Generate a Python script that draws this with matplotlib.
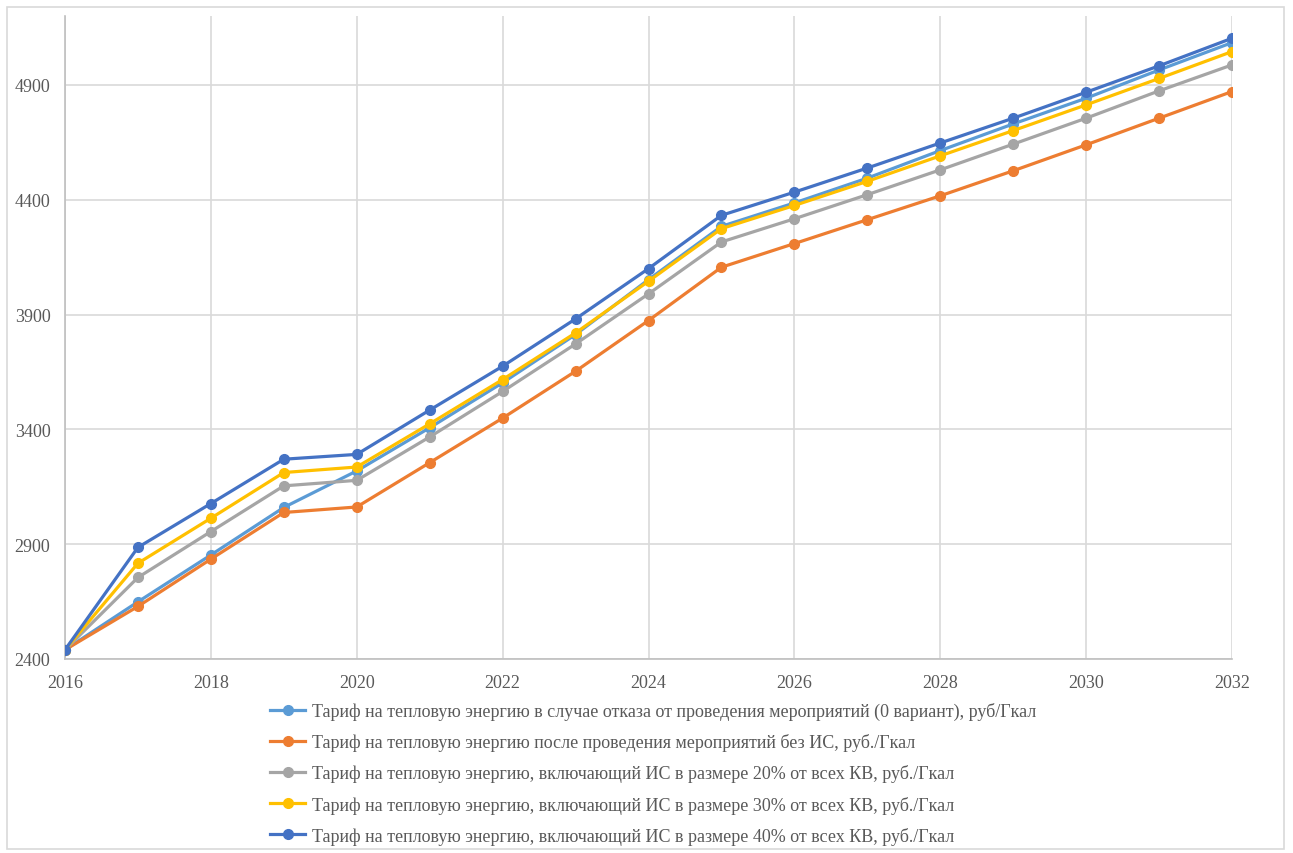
import numpy as np
import matplotlib.pyplot as plt
from matplotlib.patches import Rectangle

plt.rcParams['font.family'] = ['Liberation Serif', 'DejaVu Serif']

years = np.arange(2016, 2033)

# tariff scenarios, rub/Gcal
tariff_base = [2440, 2649, 2853, 3060, 3219, 3407, 3603, 3813, 4052, 4284,
               4386, 4494, 4614, 4730, 4842, 4965, 5084]
tariff_no_is = [2440, 2629, 2835, 3038, 3062, 3255, 3449, 3653, 3874, 4106,
                4209, 4313, 4417, 4526, 4639, 4755, 4871]
tariff_is20 = [2440, 2755, 2955, 3154, 3178, 3367, 3565, 3772, 3990, 4216,
               4317, 4422, 4530, 4642, 4755, 4874, 4987]
tariff_is30 = [2440, 2817, 3013, 3212, 3236, 3424, 3617, 3820, 4045, 4274,
               4375, 4480, 4591, 4701, 4813, 4928, 5045]
tariff_is40 = [2440, 2886, 3077, 3270, 3291, 3484, 3675, 3881, 4100, 4332,
               4433, 4538, 4647, 4755, 4868, 4983, 5103]

labels = [
    'Тариф на тепловую энергию в случае отказа от проведения мероприятий (0 вариант), руб/Гкал',
    'Тариф на тепловую энергию после проведения мероприятий без ИС, руб./Гкал',
    'Тариф на тепловую энергию, включающий ИС в размере 20% от всех КВ, руб./Гкал',
    'Тариф на тепловую энергию, включающий ИС в размере 30% от всех КВ, руб./Гкал',
    'Тариф на тепловую энергию, включающий ИС в размере 40% от всех КВ, руб./Гкал',
]
series = [tariff_base, tariff_no_is, tariff_is20, tariff_is30, tariff_is40]
colors = ['#5B9BD5', '#ED7D31', '#A5A5A5', '#FFC000', '#4472C4']

W, H = 1293, 854
fig = plt.figure(figsize=(W / 100, H / 100), dpi=100)
ax = fig.add_axes([65 / W, 1 - 660 / H, (1232 - 65) / W, (660 - 17) / H])

for vals, col, lab in zip(series, colors, labels):
    ax.plot(years, vals, color=col, lw=2.3, marker='o', ms=7,
            label=lab, zorder=3)

ax.set_xlim(2016, 2032)
ax.set_ylim(2400, 5200)
ax.set_xticks(np.arange(2016, 2033, 2))
ax.set_yticks(np.arange(2400, 5000, 500))
ax.grid(True, color='#d9d9d9', lw=1.2)
ax.set_axisbelow(True)

for side in ['top', 'right']:
    ax.spines[side].set_visible(False)
for side in ['left', 'bottom']:
    ax.spines[side].set_color('#bfbfbf')
    ax.spines[side].set_linewidth(1.2)

ax.tick_params(length=0, labelsize=13, colors='#595959')
ax.tick_params(axis='x', pad=11)
ax.tick_params(axis='y', pad=10.5)

leg = fig.legend(loc='upper left', bbox_to_anchor=(270 / W, 1 - 703 / H),
                 frameon=False, fontsize=13, labelspacing=0.73,
                 handlelength=1.95, handletextpad=0.4, borderpad=0,
                 borderaxespad=0)
for t in leg.get_texts():
    t.set_color('#595959')

# outer chart frame
fig.patches.append(Rectangle((7 / W, 1 - 850 / H), (1284 - 7) / W, (850 - 8) / H,
                             transform=fig.transFigure, fill=False,
                             edgecolor='#d9d9d9', lw=1.2))

fig.savefig('out.png', dpi=100)
